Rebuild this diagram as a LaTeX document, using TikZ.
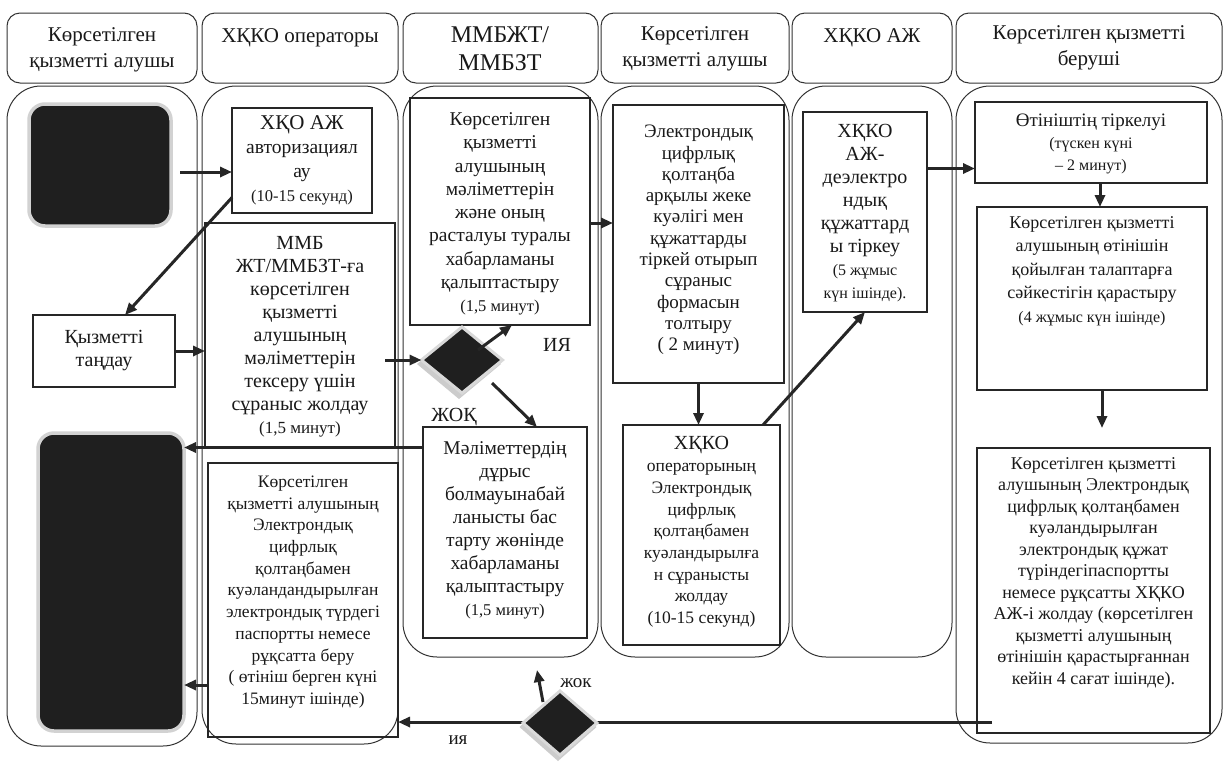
\documentclass[tikz,border=0pt]{standalone}
\usepackage{fontspec}
\setmainfont{Liberation Serif}
\usetikzlibrary{arrows.meta,shapes.geometric,calc}
\newcommand\setfs[2]{\fontsize{#1pt}{#2pt}\selectfont}
\begin{document}
\begin{tikzpicture}[x=1pt,y=-1pt,
  lane/.style={draw=black!80, line width=1pt, rounded corners=34pt},
  hdr/.style={draw=black!80, line width=1pt, rounded corners=13pt, rectangle, inner sep=0pt, outer sep=0pt, minimum height=70pt},
  box/.style={draw=black!85, line width=1.3pt, rectangle, inner sep=0pt, outer sep=0pt},
  blk/.style={fill=black!88, draw=gray!35, line width=3.5pt, rounded corners=16pt, rectangle, inner sep=0pt, outer sep=0pt},
  dia/.style={diamond, fill=black!88, draw=gray!30, line width=3pt, inner sep=0pt, outer sep=0pt},
  diashadow/.style={diamond, fill=gray!40, inner sep=0pt, outer sep=0pt},
  arr/.style={-{Triangle[length=12pt,width=10pt]}, line width=3pt, draw=black!85},
  txt/.style={align=center, inner sep=0pt, text=black!90},
  lbl/.style={inner sep=0pt, text=black!90}
]
\useasboundingbox (0,0) rectangle (1224,761);
\fill[white] (0,0) rectangle (1224,761);

% lanes
\draw[lane] (7,86) rectangle (197,746);
\draw[lane] (202,86) rectangle (398,744);
\draw[lane] (403,86) rectangle (598,657);
\draw[lane] (601,86) rectangle (789,657);
\draw[lane] (792,86) rectangle (952,657);
\draw[lane] (956,86) rectangle (1222,743);

% headers
\node[hdr, minimum width=190pt] (h1) at (102,48) {};
\node[hdr, minimum width=196pt] (h2) at (300,48) {};
\node[hdr, minimum width=195pt] (h3) at (500.5,48) {};
\node[hdr, minimum width=188pt] (h4) at (695,48) {};
\node[hdr, minimum width=160pt] (h5) at (872,48) {};
\node[hdr, minimum width=266pt] (h6) at (1089,48) {};
\node[txt, font=\setfs{21}{26}] (h1t) at (102,50) {Көрсетілген\\қызметті алушы};
\node[txt, font=\setfs{21}{26}] (h2t) at (300,38) {ХҚКО операторы};
\node[txt, font=\setfs{24}{28}] (h3t) at (500,49) {ММБЖТ/\\ММБЗТ};
\node[txt, font=\setfs{21}{26}] (h4t) at (695,49) {Көрсетілген\\қызметті алушы};
\node[txt, font=\setfs{21}{26}] (h5t) at (872,38) {ХҚКО АЖ};
\node[txt, font=\setfs{21}{26}] (h6t) at (1089,48) {Көрсетілген қызметті\\беруші};

% black terminals
\node[blk, minimum width=142pt, minimum height=122pt] (blk1) at (100,165) {};
\node[blk, minimum width=146pt, minimum height=298pt] (blk2) at (111,582) {};

% process boxes
\node[box, minimum width=140pt, minimum height=105pt] (auth) at (302,160.5) {};
\node[box, minimum width=190pt, minimum height=224pt] (mmb) at (300,335) {};
\node[box, minimum width=142pt, minimum height=72pt] (tandau) at (104,351) {};
\node[box, minimum width=180pt, minimum height=227pt] (conf) at (500,211.5) {};
\node[box, minimum width=171pt, minimum height=278pt] (ecp) at (698.5,244) {};
\node[box, minimum width=164pt, minimum height=211pt] (rej) at (505,532.5) {};
\node[box, minimum width=190pt, minimum height=274pt] (issue) at (303,600) {};
\node[box, minimum width=157pt, minimum height=220pt] (opsend) at (701.5,535) {};
\node[box, minimum width=124pt, minimum height=200pt] (reg5) at (865,212) {};
\node[box, minimum width=232pt, minimum height=81pt] (tirk) at (1091,142.5) {};
\node[box, minimum width=230pt, minimum height=183pt] (check) at (1092,298.5) {};
\node[box, minimum width=233pt, minimum height=285pt] (final) at (1093.5,590.5) {};

% bottom return line (under diamond 2)
\coordinate (p13) at ([xshift=15pt,yshift=11pt]final.south west);
\draw[arr] (p13) -- (p13 -| issue.east);

% decisions
\node[diashadow, minimum width=84pt, minimum height=70pt] (dia1s) at (459,364) {};
\node[diashadow, minimum width=77pt, minimum height=68pt] (dia2s) at (558,727) {};
\node[dia, minimum width=81pt, minimum height=66pt] (dia1) at (462,360) {};
\node[dia, minimum width=74pt, minimum height=64pt] (dia2) at (560,723) {};

% texts in boxes
\node[txt, font=\setfs{19.5}{24}] (autht) at (auth) {{\setfs{21}{24}ХҚО АЖ}\\авторизациял\\ау\\{\setfs{16.5}{20}(10-15 секунд)}};
\node[txt, font=\setfs{20}{23}] (mmbt) at (300,337) {ММБ\\ЖТ/ММБЗТ-ға\\көрсетілген\\қызметті\\алушының\\мәліметтерін\\тексеру үшін\\сұраныс жолдау\\{\setfs{17}{20}(1,5 минут)}};
\node[txt, font=\setfs{20}{23}] (tandaut) at (tandau) {Қызметті\\таңдау};
\node[txt, font=\setfs{19.5}{23.3}] (conft) at (500,214) {Көрсетілген\\қызметті\\алушының\\мәліметтерін\\және оның\\расталуы туралы\\хабарламаны\\қалыптастыру\\{\setfs{16.5}{20}(1,5 минут)}};
\node[txt, font=\setfs{19}{21.3}] (ecpt) at (698.5,240) {Электрондық\\цифрлық\\қолтаңба\\арқылы жеке\\куәлігі мен\\құжаттарды\\тіркей отырып\\сұраныс\\формасын\\толтыру\\( 2 минут)};
\node[txt, font=\setfs{19.5}{23}] (rejt) at (505,530) {Мәліметтердің\\дұрыс\\болмауынабай\\ланысты бас\\тарту жөнінде\\хабарламаны\\қалыптастыру\\{\setfs{16.5}{19}(1,5 минут)}};
\node[txt, font=\setfs{17.5}{21.7}] (issuet) at (303,592) {Көрсетілген\\қызметті алушының\\Электрондық\\цифрлық\\қолтаңбамен\\куәландандырылған\\электрондық түрдегі\\паспортты немесе\\рұқсатта беру\\( өтініш берген күні\\15минут ішінде)};
\node[txt, font=\setfs{17.5}{21.7}] (opsendt) at (701.5,532) {{\setfs{20}{22}ХҚКО}\\операторының\\Электрондық\\цифрлық\\қолтаңбамен\\куәландырылға\\н сұранысты\\жолдау\\(10-15 секунд)};
\node[txt, font=\setfs{20}{23}] (reg5t) at (865,213) {ХҚКО\\АЖ-\\деэлектро\\ндық\\құжаттард\\ы тіркеу\\{\setfs{16}{20}(5 жұмыс}\\{\setfs{16}{20}күн ішінде).}};
\node[txt, font=\setfs{19}{22}] (tirkt) at (1091,144) {Өтініштің тіркелуі\\{\setfs{16}{20}(түскен күні}\\{\setfs{16}{20}– 2 минут)}};
\node[txt, font=\setfs{18}{23.5}, anchor=north] (checkt) at (1092,216) {Көрсетілген қызметті\\алушының өтінішін\\қойылған талаптарға\\сәйкестігін қарастыру\\{\setfs{16}{20}(4 жұмыс күн ішінде)}};
\node[txt, font=\setfs{18}{21.5}, anchor=north] (finalt) at (1093.5,457) {Көрсетілген қызметті\\алушының Электрондық\\цифрлық қолтаңбамен\\куәландырылған\\электрондық құжат\\түріндегіпаспортты\\немесе рұқсатты ХҚКО\\АЖ-і жолдау (көрсетілген\\қызметті алушының\\өтінішін қарастырғаннан\\кейін 4 сағат ішінде).};

% connectors
\coordinate (p1) at ([xshift=9pt,yshift=-7pt]blk1.east);
\draw[arr] (p1) -- (p1 -| auth.west);
\draw[arr] ([yshift=-37pt]auth.west) -- ([xshift=21pt]tandau.north);
\draw[arr] (tandau.east) -- (tandau.east -| mmb.west);
\draw[arr] ([xshift=-10pt]dia1.west -| mmb.east) -- (dia1.west);
\draw[arr] ([xshift=16pt,yshift=10pt]dia1.center) -- ([xshift=12pt]conf.south);
\draw[arr] ([xshift=30pt,yshift=-23pt]dia1.center) -- ([xshift=32pt]rej.north);
\coordinate (p7) at ([yshift=-11.5pt]conf.east);
\draw[arr] (p7) -- (p7 -| ecp.west);
\draw[arr] (ecp.south) -- (ecp.south |- opsend.north);
\draw[arr] ([xshift=-17pt]opsend.north east) -- (reg5.south);
\coordinate (p10) at ([yshift=-26pt]tirk.west);
\draw[arr] (p10 -| reg5.east) -- (p10);
\coordinate (p11) at ([xshift=9pt]tirk.south);
\draw[arr] (p11) -- (p11 |- check.north);
\coordinate (p12) at ([xshift=10pt]check.south);
\draw[arr, shorten >=20pt] (p12) -- (p12 |- final.north);
\coordinate (p14) at ([xshift=-23pt,yshift=53pt]dia2.center);
\draw[arr] ([xshift=-17pt,yshift=21pt]dia2.center) -- (p14);
\coordinate (p15) at ([yshift=85pt]rej.west);
\draw[arr] (p15) -- (p15 -| blk2.east);
\coordinate (p16) at ([yshift=-85pt]issue.west);
\draw[arr] (p16) -- (p16 -| blk2.east);

% labels
\node[lbl, font=\setfs{20}{24}] (liya) at (557,345) {ИЯ};
\node[lbl, font=\setfs{20}{24}] (ljoq) at (454,417) {ЖОҚ};
\node[lbl, font=\setfs{19}{22}] (ljok) at (576,683) {жок};
\node[lbl, font=\setfs{19}{22}] (liya2) at (458,740) {ия};
\end{tikzpicture}
\end{document}
